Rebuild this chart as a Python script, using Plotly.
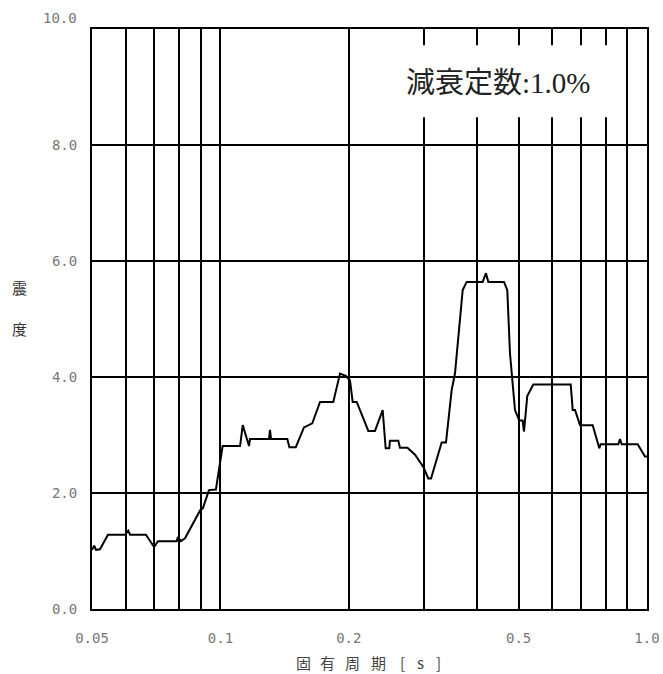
import plotly.graph_objects as go
import math

# Natural period [s]
period = [0.0500, 0.0506, 0.0511, 0.0522, 0.0545, 0.0598, 0.0608, 0.0614, 0.0669, 0.0699,
          0.0714, 0.0790, 0.0795, 0.0808, 0.0826, 0.0896, 0.0910, 0.0940, 0.0976, 0.1012,
          0.1112, 0.1128, 0.1167, 0.1173, 0.1300, 0.1307, 0.1314, 0.1435, 0.1451, 0.1502,
          0.1570, 0.1642, 0.1712, 0.1839, 0.1907, 0.1967, 0.2013, 0.2042, 0.2087, 0.2222,
          0.2303, 0.2401, 0.2440, 0.2488, 0.2497, 0.2612, 0.2636, 0.2745, 0.2859, 0.2990,
          0.3071, 0.3117, 0.3301, 0.3379, 0.3485, 0.3547, 0.3631, 0.3698, 0.3778, 0.4119,
          0.4193, 0.4246, 0.4621, 0.4704, 0.4773, 0.4904, 0.5018, 0.5111, 0.5148, 0.5240,
          0.5413, 0.6625, 0.6697, 0.6781, 0.6966, 0.7459, 0.7730, 0.7788, 0.8564, 0.8643,
          0.8723, 0.9510, 0.9890, 1.0000]
# Seismic intensity values
intensity = [1.02, 1.09, 1.02, 1.03, 1.28, 1.28, 1.35, 1.28, 1.28, 1.07,
             1.17, 1.17, 1.24, 1.17, 1.22, 1.70, 1.74, 2.05, 2.06, 2.81,
             2.81, 3.17, 2.81, 2.93, 2.93, 3.09, 2.93, 2.93, 2.79, 2.79,
             3.13, 3.20, 3.57, 3.57, 4.06, 4.02, 3.94, 3.57, 3.57, 3.07,
             3.07, 3.43, 2.77, 2.77, 2.90, 2.90, 2.78, 2.78, 2.66, 2.45,
             2.25, 2.25, 2.87, 2.87, 3.78, 4.06, 4.87, 5.50, 5.64, 5.64,
             5.79, 5.64, 5.64, 5.50, 4.41, 3.43, 3.25, 3.25, 3.06, 3.67,
             3.87, 3.87, 3.43, 3.43, 3.17, 3.17, 2.77, 2.84, 2.84, 2.93,
             2.84, 2.84, 2.63, 2.63]

x_tickvals = [0.05, 0.1, 0.2, 0.5, 1.0]
x_ticktext = ["0.05", "0.1", "0.2", "0.5", "1.0"]
x_minor = [0.06, 0.07, 0.08, 0.09, 0.3, 0.4, 0.6, 0.7, 0.8, 0.9]
y_tickvals = [0, 2, 4, 6, 8]
y_ticktext = ["0.0", "2.0", "4.0", "6.0", "8.0"]
y_top_label = "10.0"
damping_text = "減衰定数:1.0%"
x_title_chars = ["固", "有", "周", "期", "[", "s", "]"]
y_title_chars = ["震", "度"]

tick_font = dict(family="DejaVu Sans Mono", size=14, color="#777777")

fig = go.Figure()
fig.add_trace(go.Scatter(x=period, y=intensity, mode="lines",
                         line=dict(color="black", width=2), showlegend=False,
                         hoverinfo="skip"))

fig.update_layout(
    width=663, height=674,
    margin=dict(l=92, r=16, t=29, b=65),
    paper_bgcolor="white", plot_bgcolor="white",
    xaxis=dict(type="log", range=[math.log10(0.05), 0], automargin=False,
               tickvals=x_tickvals, ticktext=x_ticktext,
               showgrid=True, gridcolor="black", gridwidth=2,
               minor=dict(tickvals=x_minor, showgrid=True, gridcolor="black", gridwidth=2,
                          ticks=""),
               showline=True, linecolor="black", linewidth=2, mirror=True,
               ticks="outside", ticklen=15, tickcolor="rgba(0,0,0,0)",
               tickfont=tick_font, zeroline=False),
    yaxis=dict(range=[0, 10], tickvals=y_tickvals, ticktext=y_ticktext, automargin=False,
               showgrid=True, gridcolor="black", gridwidth=2,
               showline=True, linecolor="black", linewidth=2, mirror=True,
               ticks="outside", ticklen=10, tickcolor="rgba(0,0,0,0)",
               tickfont=tick_font, zeroline=False),
)

# white box behind damping label
fig.add_shape(type="rect", xref="paper", yref="paper",
              x0=0.546, x1=0.948, y0=0.848, y1=0.972,
              fillcolor="white", line=dict(width=0), layer="above")

fig.add_annotation(text=damping_text, xref="paper", yref="paper",
                   x=0.7324, y=0.907, xanchor="center", yanchor="middle", showarrow=False,
                   font=dict(family="Liberation Serif, Noto Sans CJK JP", size=29, color="#222222"))

fig.add_annotation(text=y_top_label, xref="paper", yref="paper",
                   x=-0.0234, y=1.0, yshift=11, xanchor="right", yanchor="middle",
                   showarrow=False, font=tick_font)

# x-axis title, letter-spaced (pixel centres of each glyph)
title_px = [303, 327, 352, 378, 402, 420, 438]
for ch, px in zip(x_title_chars, title_px):
    fig.add_annotation(text=ch, xref="paper", yref="paper",
                       x=(px - 92) / 555, y=(609 - 662) / 580,
                       xanchor="center", yanchor="middle", showarrow=False,
                       font=dict(family="Noto Sans CJK JP", size=15, color="#444444"))

for ch, py in zip(y_title_chars, [287, 328]):
    fig.add_annotation(text=ch, xref="paper", yref="paper",
                       x=(19 - 92) / 555, y=(609 - py) / 580,
                       xanchor="center", yanchor="middle", showarrow=False,
                       font=dict(family="Noto Sans CJK JP", size=15, color="#333333"))

fig.write_html("out.html", config={"displayModeBar": False},
               post_script="document.body.style.margin='0';document.body.style.overflow='hidden';")
